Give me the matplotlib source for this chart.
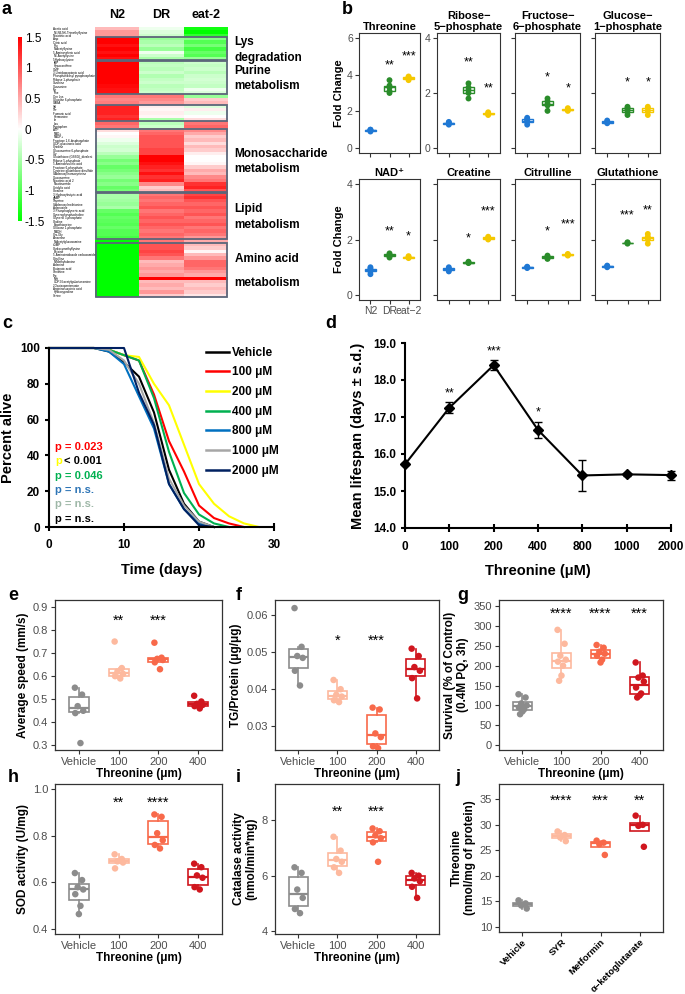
import numpy as np
import matplotlib
matplotlib.use('Agg')
import matplotlib.pyplot as plt
from matplotlib.colors import LinearSegmentedColormap
from matplotlib.patches import Rectangle
from matplotlib.lines import Line2D

plt.rcParams['font.family'] = ['Liberation Sans', 'DejaVu Sans']

# ---------------- data ----------------
# a: heatmap (z-scores), 80 metabolites x 3 groups
hm_cols = ['N2', 'DR', 'eat-2']
hm_rows = ['Acetic acid', 'N6,N6,N6-Trimethyllysine', 'Nicotinic acid', 'Asp', 'Citric acid', 'Pro',
           'N-Acetyllysine', '5-Aminovaleric acid', 'N6-Acetyllysine', '5-Hydroxylysine',
           'IMP', 'Hypoxanthine', 'GMP', '3-Ureidopropionic acid', 'Phosphoribosyl pyrophosphate',
           'Ribose 1-phosphate', 'Xanthine', 'Guanosine', 'Tyr', 'Phe',
           'Orn Lys', 'Glucose 6-phosphate', 'GABA', 'Val', 'Thr', 'Fumaric acid', 'Hermanine', 'Ile',
           'Leu', 'Tryptophan', 'ATP', 'NAD+', 'NADP+', 'Fructose 1,6-bisphosphate',
           'UDP-glucuronic acid', 'Cytidine', 'Glucosamine 6-phosphate', 'Gly',
           'Glutathione (GSSG)_divalent', 'Ribose 5-phosphate', '5-Aminolevulinic acid',
           'Fructose 6-phosphate', 'Cysteine glutathione disulfide', 'S-Adenosylhomocysteine',
           'Glucosamine', 'Nicotinic acid 2', 'Nicotinamide', 'Uridylic acid', 'Creatine',
           '3-Hydroxybutyric acid', 'dAMP', 'Thymine', 'S-Adenosylmethionine', 'Adenosine',
           '3-Phosphoglyceric acid', 'Glycerophosphocholine', 'Glycerol 3-phosphate', 'Choline',
           'Ergothioneine', 'Glucose 1-phosphate', 'NADH', 'Cys-Gly', 'Anserine',
           'N-Acetylglucosamine', 'cGMP', 'Carboxymethyllysine', 'Betaine',
           '5-Aminoimidazole carboxamide', 'Citrulline', 'N-Methylalanine', 'Adenine',
           'Butanoic acid', 'Ornithine', 'Trp', 'Met', 'UDP-N-acetylgalactosamine',
           '2-Oxoisopentanoate', 'Argininosuccinic acid', 'Hydroxyproline', 'Serine']
hm_n2 = [0.4, 0.6, 0.6,
         1.5, 1.5, 1.4, 1.5, 1.4, 1.5, 1.4,
         1.5, 1.5, 1.5, 1.5, 1.5, 1.5, 1.5, 1.45, 1.4, 1.4,
         0.8, 0.7, 0.75,
         1.3, 1.3, 1.3, 1.2, 1.3,
         0.9, 0.8,
         0.2, 0.0, 0.05, -0.1, -0.2, -0.3, -0.25, -0.4, -0.6, -0.8, -0.7, -0.9, -0.8, -0.7, -0.6, -0.8, -0.7, -0.9, -0.8,
         -0.5, -0.5, -0.55, -0.6, -0.5, -0.9, -1.0, -0.9, -0.95, -1.0, -0.9, -1.0, -1.0, -1.1,
         -1.5,
         -1.5, -1.5, -1.5, -1.5, -1.5, -1.5, -1.5, -1.5, -1.5, -1.5, -1.5, -1.5, -1.5, -1.5, -1.5, -1.5]
hm_dr = [-0.1, -0.2, -0.3,
         -0.6, -0.5, -0.4, -0.6, -0.1, -0.3, -0.5,
         -0.4, -0.35, -0.4, -0.3, -0.45, -0.35, -0.3, -0.4, -0.35, -0.3,
         0.8, 0.7, 0.6,
         0.1, 0.05, 0.1, 0.05, -0.5,
         -0.4, -0.3,
         0.8, 0.9, 1.0, 1.0, 1.0, 1.0, 1.1, 1.1, 1.5, 1.5, 1.4, 1.3, 1.2, 1.4, 1.2, 1.3, 0.7, 0.3, 0.4,
         0.8, 0.9, 0.8, 0.9, 1.0, 0.8, 0.9, 1.0, 0.9, 1.0, 0.9, 0.8, 0.9, 0.8,
         0.8,
         1.0, 1.0, 1.1, 1.0, 0.8, 0.4, 0.5, 0.6, 0.5, 0.6, 1.5, 0.4, 0.5, 0.4, 0.6, 0.3]
hm_eat2 = [-1.4, -1.5, -1.2,
           -0.7, -1.0, -0.8, -1.1, -0.9, -1.0, -0.6,
           -0.3, -0.35, -0.3, -0.4, -0.3, -0.25, -0.3, -0.35, -0.1, -0.2,
           -0.6, 0.3, 0.4,
           -0.2, 0.1, -0.1, 0.0, 0.2,
           0.8, 0.9,
           0.7, 0.5, 0.3, 0.4, 0.2, 0.4, 0.3, 0.1, 0.0, 0.0, 0.05, 0.3, 0.5, 0.4, 0.7, 0.8, 1.2, 1.3, 1.0,
           1.1, 1.2, 1.0, 0.9, 1.0, 0.9, 1.0, 0.8, 0.9, 1.0, 0.8, 0.9, 0.8, 0.6,
           0.5,
           0.4, 0.3, 0.05, 0.4, 0.6, 0.9, 0.9, 0.8, 0.6, 0.5, 1.5, 0.4, 0.3, 0.4, 0.3, 0.15]
hm_groups = ['Lys\ndegradation', 'Purine\nmetabolism', '', 'Monosaccharide\nmetabolism',
             'Lipid\nmetabolism', 'Amino acid\n\nmetabolism']
hm_group_rows = [(3, 9), (10, 19), (23, 27), (30, 48), (49, 62), (64, 79)]

# b: fold change
b_names = ['Threonine', 'Ribose−\n5−phosphate', 'Fructose−\n6−phosphate', 'Glucose−\n1−phosphate',
           'NAD⁺', 'Creatine', 'Citrulline', 'Glutathione']
b_groups = ['N2', 'DR', 'eat−2']
b_n2 = [[0.9, 0.95, 1.0, 1.0], [0.85, 0.9, 0.92, 0.95], [0.85, 0.95, 1.0, 1.05, 1.1], [0.9, 0.95, 1.0],
        [0.75, 0.85, 0.9, 0.95, 1.0], [0.85, 0.9, 0.95, 1.0], [0.97, 1.0, 1.02], [1.0, 1.03, 1.06]]
b_dr = [[3.0, 3.1, 3.3, 3.4, 3.7], [1.8, 2.0, 2.1, 2.2, 2.35], [1.35, 1.55, 1.6, 1.7, 1.8],
        [1.2, 1.3, 1.4, 1.45, 1.5], [1.35, 1.4, 1.45, 1.5], [1.15, 1.17, 1.2],
        [1.3, 1.33, 1.38, 1.42], [1.85, 1.88, 1.9]]
b_eat2 = [[3.7, 3.8, 3.85, 3.9], [1.2, 1.25, 1.3], [1.35, 1.4, 1.45], [1.2, 1.35, 1.45, 1.5],
          [1.33, 1.36, 1.4], [2.0, 2.05, 2.1], [1.42, 1.45, 1.48], [1.85, 2.0, 2.05, 2.1, 2.2]]
b_stars_dr = ['**', '**', '*', '*', '**', '*', '*', '***']
b_stars_eat2 = ['***', '**', '*', '*', '*', '***', '***', '**']
b_star_y_dr = [4.5, 3.1, 2.55, 2.4, 2.3, 2.05, 2.3, 2.85]
b_star_y_eat2 = [5.0, 2.15, 2.15, 2.4, 2.1, 3.0, 2.55, 3.05]

# c: survival curves
c_days = [0, 6, 8, 10, 12, 14, 16, 18, 20, 22, 24, 26, 28]
c_labels = ['Vehicle', '100 μM', '200 μM', '400 μM', '800 μM', '1000 μM', '2000 μM']
c_alive = [[100, 100, 98, 92, 84, 64, 32, 13, 3, 0],
           [100, 100, 99, 96, 93, 74, 48, 31, 12, 5, 2, 0],
           [100, 100, 99, 96, 95, 80, 68, 46, 24, 13, 6, 2, 0],
           [100, 100, 99, 96, 93, 72, 42, 19, 7, 2, 0],
           [100, 100, 98, 91, 73, 55, 24, 10, 2, 0],
           [100, 100, 99, 93, 80, 58, 27, 12, 3, 0],
           [100, 100, 100, 100, 75, 57, 24, 10, 1, 0]]
c_pvals = ['p = 0.023', 'p', 'p = 0.046', 'p = n.s.', 'p = n.s.', 'p = n.s.']

# d: mean lifespan
d_conc = ['0', '100', '200', '400', '800', '1000', '2000']
d_mean = [15.72, 17.25, 18.40, 16.65, 15.42, 15.45, 15.43]
d_sd = [0.03, 0.15, 0.13, 0.22, 0.42, 0.05, 0.12]
d_stars = ['', '**', '***', '*', '', '', '']

# e-j
thr_labels = ['Vehicle', '100', '200', '400']
e_vals = [[0.55, 0.52, 0.47, 0.45, 0.44, 0.31], [0.75, 0.635, 0.62, 0.61, 0.60, 0.59],
          [0.745, 0.68, 0.675, 0.67, 0.66, 0.63], [0.515, 0.49, 0.48, 0.475, 0.47, 0.46]]
e_stars = ['', '**', '***', '']
f_vals = [[0.062, 0.0515, 0.049, 0.0485, 0.045, 0.041], [0.0425, 0.040, 0.0385, 0.038, 0.037, 0.0365],
          [0.035, 0.0345, 0.028, 0.027, 0.0245, 0.024], [0.051, 0.049, 0.046, 0.045, 0.043, 0.0375]]
f_stars = ['', '*', '***', '']
g_vals = [[128, 120, 105, 100, 95, 90, 85, 78], [290, 255, 225, 215, 210, 200, 175, 162],
          [252, 245, 235, 230, 225, 215, 208], [208, 175, 170, 160, 145, 130, 125, 120]]
g_stars = ['', '****', '****', '***']
h_vals = [[0.64, 0.61, 0.58, 0.57, 0.55, 0.50, 0.465], [0.72, 0.70, 0.69, 0.685, 0.66],
          [0.89, 0.88, 0.81, 0.78, 0.76, 0.745], [0.68, 0.665, 0.63, 0.62, 0.58, 0.57]]
h_stars = ['', '**', '****', '']
i_vals = [[6.3, 6.1, 5.5, 5.2, 4.8, 4.65], [7.4, 6.9, 6.6, 6.5, 6.3, 6.1],
          [7.7, 7.6, 7.45, 7.35, 7.2, 6.5], [6.1, 6.0, 5.9, 5.8, 5.6, 5.2]]
i_stars = ['', '**', '***', '']
j_labels = ['Vehicle', 'SYR', 'Metformin', 'α−ketoglutarate']
j_vals = [[15.2, 14.6, 14.2, 13.6], [28.7, 28.0, 27.5, 26.8], [26.9, 26.5, 26.2, 24.1],
          [31.8, 30.0, 29.8, 25.7]]
j_stars = ['', '****', '***', '**']

# ---------------- figure ----------------
W, H = 685, 994
fig = plt.figure(figsize=(W / 100, H / 100), dpi=100)


def add_ax(l, t, r, b):
    return fig.add_axes([l / W, 1 - b / H, (r - l) / W, (b - t) / H])


def letter(x, y, s):
    fig.text(x / W, 1 - y / H, s, fontsize=13, fontweight='bold', va='center', ha='left')


# ---- a ----
cmap = LinearSegmentedColormap.from_list('gwr', ['#00FF00', '#FFFFFF', '#FF0000'])
hm = np.array([hm_n2, hm_dr, hm_eat2]).T
ax = add_ax(95, 27, 228, 297)
im = ax.imshow(hm, aspect='auto', cmap=cmap, vmin=-1.5, vmax=1.5, interpolation='nearest')
ax.set_xlim(-0.5, 2.5)
ax.set_ylim(len(hm_rows) - 0.5, -0.5)
for s in ax.spines.values():
    s.set_visible(False)
ax.set_xticks([])
ax.set_yticks(range(len(hm_rows)))
ax.set_yticklabels(hm_rows, fontsize=2.2)
for t in ax.get_yticklabels():
    t.set_ha('left')
ax.tick_params(axis='y', length=0, pad=30)
for k, c in enumerate(hm_cols):
    ax.text(k, -2.2, c, ha='center', va='bottom', fontsize=9, fontweight='bold')
for (r0, r1), g in zip(hm_group_rows, hm_groups):
    ax.add_patch(Rectangle((-0.48, r0 - 0.4), 2.96, r1 - r0 + 0.8, fill=False,
                           edgecolor='#5C667A', lw=1.3, clip_on=False))
    if g:
        ax.text(2.65, (r0 + r1) / 2 + 0.3, g, ha='left', va='center', fontsize=8.5,
                fontweight='bold', linespacing=1.35 if '\n\n' not in g else 0.95)
cax = add_ax(18, 37, 22, 221)
cb = fig.colorbar(im, cax=cax)
cb.outline.set_visible(False)
cb.set_ticks([1.5, 1, 0.5, 0, -0.5, -1, -1.5])
cb.set_ticklabels(['1.5', '1', '0.5', '0', '-0.5', '-1', '-1.5'])
cax.tick_params(labelsize=8.5, length=0, pad=2)
letter(2, 9, 'a')

# ---- b ----
b_colors = ['#1F78D4', '#2A8C2A', '#F5C800']
b_cols = [(359, 420), (437, 500), (515, 580), (595, 660)]
b_rows = [(33, 153), (179, 300)]
for n, name in enumerate(b_names):
    r, c = divmod(n, 4)
    ax = add_ax(b_cols[c][0], b_rows[r][0], b_cols[c][1], b_rows[r][1])
    groups = [b_n2[n], b_dr[n], b_eat2[n]]
    for k, (vals, col) in enumerate(zip(groups, b_colors)):
        ax.boxplot([vals], positions=[k + 1], widths=0.55, patch_artist=True, showfliers=False,
                   showcaps=False, boxprops=dict(facecolor='white', edgecolor=col, lw=1),
                   medianprops=dict(color=col, lw=1), whiskerprops=dict(color=col, lw=1))
        ax.scatter(np.full(len(vals), k + 1), vals, s=18, color=col, zorder=3, edgecolors='none')
    ax.text(2, b_star_y_dr[n], b_stars_dr[n], ha='center', va='center', fontsize=9)
    ax.text(3, b_star_y_eat2[n], b_stars_eat2[n], ha='center', va='center', fontsize=9)
    ax.set_xlim(0.4, 3.6)
    if n == 0:
        ax.set_ylim(-0.27, 6.27)
        ax.set_yticks([0, 2, 4, 6])
    else:
        ax.set_ylim(-0.18, 4.18)
        ax.set_yticks([0, 2, 4])
    if n not in (0, 1, 4):
        ax.set_yticklabels([])
    if n in (0, 4):
        ax.set_ylabel('Fold Change', fontsize=8, fontweight='bold', labelpad=2)
    ax.set_xticks([1, 2, 3])
    if n == 4:
        ax.set_xticklabels(b_groups, fontsize=6.3)
    else:
        ax.set_xticklabels([])
    ax.set_title(name, fontsize=8, fontweight='bold', pad=2, linespacing=1.1)
    for s in ax.spines.values():
        s.set_color('#333333')
        s.set_linewidth(0.8)
    ax.tick_params(colors='#333333', labelcolor='#4D4D4D', labelsize=7.5, length=3, width=0.8, pad=1.5)
letter(342, 9, 'b')

# ---- c ----
c_colors = ['#000000', '#FF0000', '#FFFF00', '#00B050', '#0070C0', '#A6A6A6', '#002060']
ax = add_ax(49, 348, 274, 527)
handles = []
for ys, col, lab in zip(c_alive, c_colors, c_labels):
    ax.plot(c_days[:len(ys)], ys, color=col, lw=1.5, clip_on=False)
    handles.append(Line2D([], [], color=col, lw=1.8, label=lab))
ax.set_xlim(0, 30)
ax.set_ylim(0, 100)
ax.set_xticks([0, 10, 20, 30])
ax.set_yticks([0, 20, 40, 60, 80, 100])
for s in ('top', 'right'):
    ax.spines[s].set_visible(False)
for s in ('left', 'bottom'):
    ax.spines[s].set_linewidth(1.5)
ax.tick_params(axis='x', direction='inout', length=6, width=1.5, labelsize=8.5, pad=6)
ax.tick_params(axis='y', direction='out', length=3, width=1.5, labelsize=8.5)
for t in ax.get_xticklabels() + ax.get_yticklabels():
    t.set_fontweight('bold')
ax.set_xlabel('Time (days)', fontsize=10.5, fontweight='bold', labelpad=8)
ax.set_ylabel('Percent alive', fontsize=10.5, fontweight='bold', labelpad=4)
leg = ax.legend(handles=handles, loc='upper left', bbox_to_anchor=(0.67, 1.04), frameon=False,
                prop=dict(weight='bold', size=8.5), handlelength=2.0, handletextpad=0.25,
                labelspacing=0.65, borderpad=0)
p_colors = ['#FF0000', '#FFFF00', '#00B050', '#2E75B6', '#9FB8A8', '#000000']
for k, (pv, col) in enumerate(zip(c_pvals, p_colors)):
    y = 447 + k * 14.3
    fig.text(55 / W, 1 - y / H, pv, color=col, fontsize=8, fontweight='bold', va='center')
fig.text(64 / W, 1 - (447 + 14.3) / H, '< 0.001', color='black', fontsize=8, fontweight='bold',
         va='center')
letter(2, 323, 'c')

# ---- d ----
ax = add_ax(405, 343, 671, 528)
xd = np.arange(len(d_conc))
ax.errorbar(xd, d_mean, yerr=d_sd, color='black', lw=1.5, marker='D', ms=5, capsize=3,
            elinewidth=1, capthick=1, clip_on=False)
for k, s in enumerate(d_stars):
    if s:
        ax.text(k, d_mean[k] + d_sd[k] + 0.08, s, ha='center', va='bottom', fontsize=9)
ax.set_xlim(0, 6)
ax.set_ylim(14, 19)
ax.set_xticks(xd)
ax.set_xticklabels(d_conc)
ax.set_yticks([14, 15, 16, 17, 18, 19])
ax.set_yticklabels(['%.1f' % v for v in [14, 15, 16, 17, 18, 19]])
for s in ('top', 'right'):
    ax.spines[s].set_visible(False)
for s in ('left', 'bottom'):
    ax.spines[s].set_linewidth(1.5)
ax.tick_params(axis='x', direction='inout', length=6, width=1.5, labelsize=8.5, pad=6)
ax.tick_params(axis='y', direction='out', length=3, width=1.5, labelsize=8.5)
for t in ax.get_xticklabels() + ax.get_yticklabels():
    t.set_fontweight('bold')
ax.set_xlabel('Threonine (μM)', fontsize=10.5, fontweight='bold', labelpad=8)
ax.set_ylabel('Mean lifespan (days ± s.d.)', fontsize=10.5, fontweight='bold', labelpad=6)
letter(325, 323, 'd')

# ---- e-j ----
r_colors = ['#8C8C8C', '#FDB99E', '#F8694A', '#D0161E']
jit = [-0.1, 0.08, -0.03, 0.11, -0.09, 0.04, 0.0, -0.06]


def rbox(box, groups, stars, star_y, ylim, yticks, ylabels, ylabel, xlabels, xlabel, rot=False):
    ax = add_ax(*box)
    for k, (vals, col) in enumerate(zip(groups, r_colors)):
        ax.boxplot([vals], positions=[k + 1], widths=0.5, patch_artist=True, showfliers=False,
                   showcaps=False, boxprops=dict(facecolor='white', edgecolor=col, lw=1.2),
                   medianprops=dict(color=col, lw=1.6), whiskerprops=dict(color=col, lw=1.2))
        ax.scatter(k + 1 + np.array(jit[:len(vals)]), vals, s=22, color=col, zorder=3,
                   edgecolors='none')
        if stars[k]:
            ax.text(k + 1, star_y, stars[k], ha='center', va='center', fontsize=10.5)
    ax.set_xlim(0.4, 4.6)
    ax.set_ylim(*ylim)
    ax.set_yticks(yticks)
    ax.set_yticklabels(ylabels)
    ax.set_xticks([1, 2, 3, 4])
    if rot:
        ax.set_xticklabels(xlabels, rotation=45, ha='right', rotation_mode='anchor',
                           fontweight='bold', fontsize=6.8, color='black')
    else:
        ax.set_xticklabels(xlabels)
    for s in ax.spines.values():
        s.set_color('#333333')
        s.set_linewidth(0.9)
    ax.tick_params(colors='#333333', labelcolor='#4D4D4D', labelsize=8, length=3, width=0.8, pad=2)
    if rot:
        ax.tick_params(axis='x', labelcolor='black', labelsize=6.8, pad=1)
    ax.set_ylabel(ylabel, fontsize=8.5, fontweight='bold', labelpad=3, linespacing=1.1)
    if xlabel:
        ax.set_xlabel(xlabel, fontsize=8.5, fontweight='bold', labelpad=1)
    return ax


xl = 'Threonine (μm)'
rbox((55, 600, 222, 750), e_vals, e_stars, 0.84, (0.28, 0.93), [0.3, 0.4, 0.5, 0.6, 0.7, 0.8, 0.9],
     ['0.3', '0.4', '0.5', '0.6', '0.7', '0.8', '0.9'], 'Average speed (mm/s)', thr_labels, xl)
rbox((275, 600, 439, 750), f_vals, f_stars, 0.053, (0.0235, 0.0642), [0.03, 0.04, 0.05, 0.06],
     ['0.03', '0.04', '0.05', '0.06'], 'TG/Protein (μg/μg)', thr_labels, xl)
rbox((499, 600, 663, 750), g_vals, g_stars, 330, (-12, 365), [0, 50, 100, 150, 200, 250, 300, 350],
     ['0', '50', '100', '150', '200', '250', '300', '350'],
     'Survival (% of Control)\n(0.4M PQ, 3h)', thr_labels, xl)
rbox((55, 784, 222, 934), h_vals, h_stars, 0.94, (0.38, 1.02), [0.4, 0.6, 0.8, 1.0],
     ['0.4', '0.6', '0.8', '1.0'], 'SOD activity (U/mg)', thr_labels, xl)
rbox((275, 784, 439, 934), i_vals, i_stars, 8.3, (3.9, 9.3), [4, 6, 8],
     ['4', '6', '8'], 'Catalase activity\n(nmol/min*mg)', thr_labels, xl)
rbox((499, 784, 663, 932), j_vals, j_stars, 34.8, (9.0, 38.0), [10, 15, 20, 25, 30, 35],
     ['10', '15', '20', '25', '30', '35'], 'Threonine\n(nmol/mg of protein)', j_labels, None,
     rot=True)
letter(8, 596, 'e')
letter(236, 596, 'f')
letter(457, 596, 'g')
letter(8, 777, 'h')
letter(236, 777, 'i')
letter(455, 777, 'j')

fig.savefig('out.png', dpi=100)
